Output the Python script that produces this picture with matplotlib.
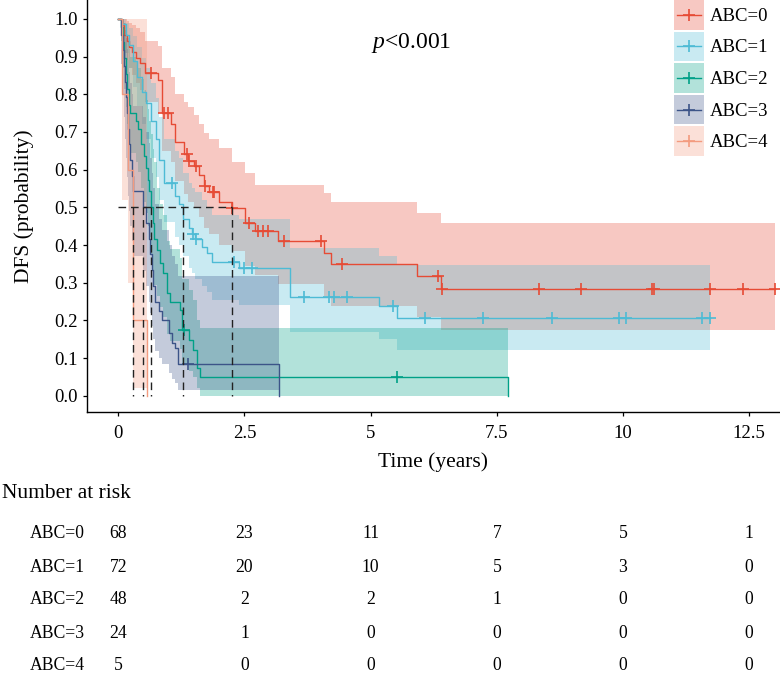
import matplotlib
matplotlib.use('Agg')
import matplotlib.pyplot as plt
import matplotlib.transforms as mtransforms
from matplotlib.lines import Line2D
from matplotlib.patches import Rectangle
from matplotlib.legend_handler import HandlerBase
import numpy as np

plt.rcParams['font.family'] = ['Liberation Serif', 'DejaVu Serif']
plt.rcParams['mathtext.fontset'] = 'custom'
plt.rcParams['mathtext.rm'] = 'Liberation Serif'
plt.rcParams['mathtext.it'] = 'Liberation Serif:italic'

# ---------------- data ----------------
labels = ['ABC=0', 'ABC=1', 'ABC=2', 'ABC=3', 'ABC=4']
colors = ['#E64B35', '#4DBBD5', '#00A087', '#3C5488', '#F39B7F']

t0 = [0, 0.08, 0.12, 0.17, 0.22, 0.28, 0.35, 0.43, 0.52, 0.78, 0.86, 1.05, 1.13, 1.30, 1.39, 1.50,
      1.60, 1.70, 1.80, 2.00, 2.25, 2.52, 2.70, 3.16, 4.07, 4.21, 5.91, 6.39, 13.02]
s0 = [1, 0.985, 0.956, 0.941, 0.926, 0.912, 0.897, 0.882, 0.856, 0.838, 0.75, 0.72, 0.672, 0.642, 0.624,
      0.61, 0.585, 0.557, 0.54, 0.515, 0.498, 0.458, 0.436, 0.41, 0.378, 0.349, 0.318, 0.283, 0.283]
u0 = [1, 1.0, 1.0, 0.995, 0.99, 0.985, 0.975, 0.965, 0.94, 0.927, 0.87, 0.845, 0.80, 0.78, 0.765, 0.745,
      0.72, 0.697, 0.68, 0.657, 0.62, 0.59, 0.56, 0.56, 0.538, 0.513, 0.486, 0.458, 0.458]
l0 = [1, 0.957, 0.91, 0.89, 0.87, 0.85, 0.83, 0.81, 0.78, 0.75, 0.65, 0.62, 0.57, 0.535, 0.515, 0.5,
      0.475, 0.445, 0.43, 0.4, 0.385, 0.345, 0.32, 0.296, 0.265, 0.237, 0.21, 0.175, 0.175]
c0 = [0.65, 0.9, 0.98, 1.37, 1.41, 1.54, 1.72, 1.87, 1.90, 2.25, 2.58, 2.77, 2.87, 2.97, 3.29, 4.01,
      4.43, 6.34, 6.42, 8.34, 9.17, 10.57, 10.62, 11.72, 12.37, 13.02]

t1 = [0, 0.08, 0.15, 0.22, 0.30, 0.38, 0.46, 0.55, 0.64, 0.74, 0.80, 0.90, 1.12, 1.20, 1.28, 1.40,
      1.46, 1.515, 1.65, 1.75, 1.85, 2.40, 3.40, 5.16, 5.53, 11.72]
s1 = [1, 0.986, 0.958, 0.93, 0.889, 0.847, 0.806, 0.776, 0.73, 0.68, 0.626, 0.565, 0.53, 0.51, 0.47,
      0.445, 0.43, 0.415, 0.396, 0.378, 0.354, 0.339, 0.263, 0.237, 0.206, 0.206]
u1 = [1, 1.0, 0.99, 0.975, 0.955, 0.925, 0.895, 0.87, 0.83, 0.79, 0.74, 0.68, 0.65, 0.63, 0.59, 0.565,
      0.55, 0.54, 0.52, 0.5, 0.48, 0.47, 0.393, 0.371, 0.347, 0.347]
l1 = [1, 0.96, 0.91, 0.87, 0.82, 0.77, 0.72, 0.68, 0.63, 0.58, 0.52, 0.46, 0.42, 0.40, 0.37, 0.34,
      0.325, 0.31, 0.29, 0.275, 0.255, 0.24, 0.17, 0.15, 0.122, 0.122]
c1 = [1.06, 1.49, 1.53, 2.30, 2.50, 2.64, 3.67, 4.18, 4.28, 4.53, 5.45, 6.07, 7.23, 8.60, 9.93, 10.06,
      11.56, 11.72]

t2 = [0, 0.06, 0.09, 0.12, 0.15, 0.18, 0.21, 0.24, 0.35, 0.40, 0.45, 0.50, 0.54, 0.58, 0.61, 0.64,
      0.68, 0.71, 0.76, 0.83, 0.89, 0.96, 1.03, 1.23, 1.26, 1.40, 1.49, 1.56, 1.62, 7.72]
s2 = [1, 0.979, 0.938, 0.896, 0.854, 0.813, 0.771, 0.75, 0.729, 0.708, 0.667, 0.635, 0.604, 0.573,
      0.542, 0.5, 0.458, 0.417, 0.387, 0.352, 0.326, 0.273, 0.25, 0.228, 0.175, 0.147, 0.122, 0.073,
      0.049, 0.0]
u2 = [1, 1.0, 1.0, 0.99, 0.97, 0.95, 0.92, 0.9, 0.885, 0.87, 0.84, 0.81, 0.785, 0.76, 0.73, 0.695,
      0.655, 0.62, 0.55, 0.51, 0.48, 0.41, 0.39, 0.365, 0.31, 0.28, 0.255, 0.2, 0.18, 0.18]
l2 = [1, 0.94, 0.87, 0.815, 0.765, 0.72, 0.67, 0.645, 0.62, 0.595, 0.55, 0.515, 0.485, 0.45, 0.42,
      0.375, 0.335, 0.295, 0.265, 0.235, 0.21, 0.165, 0.145, 0.125, 0.085, 0.065, 0.05, 0.02, 0.0, 0.0]
c2 = [1.31, 5.53]

t3 = [0, 0.06, 0.09, 0.12, 0.14, 0.16, 0.18, 0.20, 0.22, 0.24, 0.27, 0.30, 0.48, 0.55, 0.60, 0.63,
      0.66, 0.69, 0.72, 0.80, 0.87, 1.00, 1.06, 1.12, 1.19, 3.19]
s3 = [1, 0.958, 0.917, 0.875, 0.833, 0.792, 0.75, 0.708, 0.667, 0.625, 0.583, 0.542, 0.5, 0.458,
      0.417, 0.375, 0.333, 0.292, 0.25, 0.224, 0.2, 0.166, 0.14, 0.126, 0.084, 0.0]
u3 = [1, 1, 1, 0.99, 0.97, 0.95, 0.92, 0.89, 0.86, 0.83, 0.8, 0.77, 0.74, 0.7, 0.67, 0.63, 0.59,
      0.55, 0.51, 0.47, 0.44, 0.40, 0.37, 0.35, 0.317, 0.317]
l3 = [1, 0.88, 0.8, 0.74, 0.68, 0.63, 0.58, 0.53, 0.49, 0.45, 0.41, 0.37, 0.33, 0.29, 0.25, 0.22,
      0.185, 0.15, 0.12, 0.1, 0.085, 0.06, 0.045, 0.035, 0.015, 0.015]
c3 = [1.39]

t4 = [0, 0.07, 0.20, 0.30, 0.56]
s4 = [1, 0.8, 0.6, 0.2, 0.0]
u4 = [1, 1, 1, 1, 1]
l4 = [1, 0.52, 0.3, 0.02, 0.02]
c4 = []

groups = [(t0, s0, l0, u0, c0), (t1, s1, l1, u1, c1), (t2, s2, l2, u2, c2),
          (t3, s3, l3, u3, c3), (t4, s4, l4, u4, c4)]

risk_times = [0, 2.5, 5, 7.5, 10, 12.5]
risk_0 = [68, 23, 11, 7, 5, 1]
risk_1 = [72, 20, 10, 5, 3, 0]
risk_2 = [48, 2, 2, 1, 0, 0]
risk_3 = [24, 1, 0, 0, 0, 0]
risk_4 = [5, 0, 0, 0, 0, 0]
risk_rows = [risk_0, risk_1, risk_2, risk_3, risk_4]

x_ticks = [0, 2.5, 5, 7.5, 10, 12.5]
x_ticklabels = ['0', '2.5', '5', '7.5', '10', '12.5']
y_ticks = [0.0, 0.1, 0.2, 0.3, 0.4, 0.5, 0.6, 0.7, 0.8, 0.9, 1.0]


class KeyHandler(HandlerBase):
    """Legend key: translucent box with a centred line and '+' marker."""
    def create_artists(self, legend, orig_handle, xdescent, ydescent, width, height, fontsize, trans):
        col = orig_handle.get_color()
        x0, y0 = -xdescent, -ydescent
        yc = y0 + height / 2
        rect = Rectangle((x0, y0), width, height, facecolor=col, alpha=0.3, edgecolor='none',
                         transform=trans)
        line = Line2D([x0 + 2, x0 + width - 2], [yc, yc], color=col, lw=1.0, transform=trans)
        mk = Line2D([x0 + width / 2], [yc], ls='none', marker='+', ms=8, mew=1.2, color=col,
                    transform=trans)
        return [rect, line, mk]


# ---------------- figure ----------------
W, H = 780, 673
fig = plt.figure(figsize=(W / 100, H / 100), dpi=100)
ax = fig.add_axes([87 / W, 1 - 412 / H, 1 - 87 / W, 412 / H])

for (t, s, lo, hi, cens), col in zip(groups, colors):
    ax.fill_between(t, lo, hi, step='post', color=col, alpha=0.3, lw=0, zorder=1)

medians = []
for (t, s, lo, hi, cens), col in zip(groups, colors):
    ta = np.asarray(t); sa = np.asarray(s)
    ax.step(ta, sa, where='post', color=col, lw=1.0, zorder=3)
    if len(cens):
        ca = np.asarray(cens)
        idx = np.searchsorted(ta, ca, side='right') - 1
        ax.plot(ca, sa[idx], ls='none', marker='+', ms=8, mew=1.2, color=col, zorder=4)
    medians.append(ta[np.argmax(sa <= 0.5)])

dash = (0, (5.5, 3.5))
ax.plot([0, max(medians)], [0.5, 0.5], color='#222222', lw=1.0, ls=dash, zorder=5)
for m in medians:
    ax.plot([m, m], [0.5, 0.0], color='#222222', lw=1.0, ls=dash, zorder=5)

ax.set_xlim(-0.62, 13.11)
ax.set_ylim(-0.043, 1.05)
ax.set_xticks(x_ticks)
ax.set_xticklabels(x_ticklabels)
ax.set_yticks(y_ticks)
ax.set_yticklabels([f'{v:.1f}' for v in y_ticks])
for sp in ['top', 'right']:
    ax.spines[sp].set_visible(False)
for sp in ['left', 'bottom']:
    ax.spines[sp].set_linewidth(1.0)
ax.tick_params(direction='out', length=3, width=0.9, labelsize=13.5, colors='black')
ax.tick_params(axis='x', pad=6)
ax.tick_params(axis='y', pad=3.5)
ax.set_xlabel('Time (years)', fontsize=15.5, labelpad=8)
ax.set_ylabel('DFS (probability)', fontsize=15.5, labelpad=15)

ax.text(5.8, 0.936, r'$\mathit{p}$<0.001', fontsize=17, ha='center', va='center')

handles = [Line2D([], [], color=c) for c in colors]
ax.legend(handles, labels, handler_map={Line2D: KeyHandler()},
          loc='upper right', bbox_to_anchor=(0.985, 1.0), bbox_transform=fig.transFigure,
          frameon=False, fontsize=13.5, handlelength=1.6, handleheight=2.06, handletextpad=0.3,
          labelspacing=0.1, borderpad=0.0, borderaxespad=0.0)

# ---------------- risk table ----------------
fig.text(2 / W, 1 - 493 / H, 'Number at risk', fontsize=15.5, ha='left', va='center')
trans = mtransforms.blended_transform_factory(ax.transData, fig.transFigure)
row_y = [533, 567, 600, 633, 666]
for lab, row, yy in zip(labels, risk_rows, row_y):
    fig.text(30 / W, 1 - yy / H, lab, fontsize=12.7, ha='left', va='center')
    for tt, n in zip(risk_times, row):
        ax.text(tt, 1 - yy / H, str(n), transform=trans, fontsize=12.7, ha='center', va='center',
                clip_on=False)

fig.savefig('out.png', dpi=100)
